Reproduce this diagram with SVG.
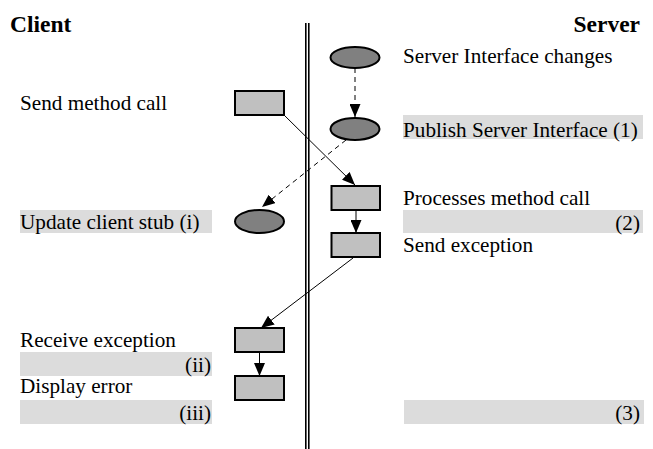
<svg xmlns="http://www.w3.org/2000/svg" width="653" height="449" viewBox="0 0 653 449">
  <style>
    text { font-family: 'Liberation Serif', 'Tinos', 'Times New Roman', Times, 'DejaVu Serif', serif; fill: #000; }
    .lbl { font-size: 21.2px; }
    .hdr { font-size: 23.5px; font-weight: bold; }
    .band { fill: #dcdcdc; }
    .box { fill: #c0c0c0; stroke: #000; stroke-width: 2; }
    .oval { fill: #808080; stroke: #000; stroke-width: 2; }
    .flow { stroke: #000; stroke-width: 1; fill: none; marker-end: url(#head); }
    .dash { stroke-dasharray: 5 4; }
    .wall { stroke: #000; stroke-width: 1.6; }
  </style>
  <defs>
    <marker id="head" viewBox="0 0 13 11" refX="13" refY="5.5" markerWidth="13" markerHeight="11" markerUnits="userSpaceOnUse" orient="auto">
      <path d="M0,0 L13,5.5 L0,11 Z" fill="#000"/>
    </marker>
  </defs>

  <rect width="653" height="449" fill="#fff"/>

  <!-- highlight bands behind labels -->
  <g id="bands">
    <rect class="band" x="403" y="115" width="240" height="24"/>
    <rect class="band" x="403" y="210" width="240" height="23"/>
    <rect class="band" x="20" y="210" width="192" height="23"/>
    <rect class="band" x="20" y="352" width="192" height="24"/>
    <rect class="band" x="20" y="400" width="192" height="24"/>
    <rect class="band" x="404" y="400" width="240" height="24"/>
  </g>

  <!-- client / server boundary -->
  <g id="boundary">
    <line class="wall" x1="305.8" y1="23" x2="305.8" y2="449"/>
    <line class="wall" x1="308.8" y1="23" x2="308.8" y2="449"/>
  </g>

  <g id="headers">
    <text class="hdr" x="10" y="32">Client</text>
    <text class="hdr" x="640" y="32" text-anchor="end">Server</text>
  </g>

  <g id="connectors">
    <line class="flow dash" x1="355" y1="68" x2="355" y2="117"/>
    <line class="flow" x1="284" y1="115" x2="355" y2="185"/>
    <line class="flow dash" x1="346" y1="140" x2="262" y2="207"/>
    <line class="flow" x1="356" y1="210" x2="356" y2="233"/>
    <line class="flow" x1="353" y1="258" x2="261" y2="328"/>
    <line class="flow" x1="259.5" y1="352" x2="259.5" y2="376"/>
  </g>

  <g id="server-interface-changes">
    <ellipse class="oval" cx="355" cy="57.5" rx="24.5" ry="10.5"/>
    <text class="lbl" x="403" y="63">Server Interface changes</text>
  </g>

  <g id="publish-server-interface">
    <ellipse class="oval" cx="355" cy="129" rx="24.5" ry="11"/>
    <text class="lbl" x="403" y="137">Publish Server Interface (1)</text>
  </g>

  <g id="send-method-call">
    <rect class="box" x="235" y="91" width="49" height="24"/>
    <text class="lbl" x="20" y="110">Send method call</text>
  </g>

  <g id="processes-method-call">
    <rect class="box" x="331.5" y="186" width="48.5" height="24"/>
    <text class="lbl" x="403" y="205">Processes method call</text>
    <text class="lbl" x="640" y="230" text-anchor="end">(2)</text>
  </g>

  <g id="send-exception">
    <rect class="box" x="331.5" y="233" width="48.5" height="24"/>
    <text class="lbl" x="403" y="252">Send exception</text>
  </g>

  <g id="update-client-stub">
    <ellipse class="oval" cx="259.5" cy="221.5" rx="24.5" ry="11.5"/>
    <text class="lbl" x="20" y="229">Update client stub (i)</text>
  </g>

  <g id="receive-exception">
    <rect class="box" x="235" y="328" width="49" height="24"/>
    <text class="lbl" x="20" y="347">Receive exception</text>
    <text class="lbl" x="211" y="372" text-anchor="end">(ii)</text>
  </g>

  <g id="display-error">
    <rect class="box" x="235" y="376" width="49" height="24"/>
    <text class="lbl" x="20" y="393">Display error</text>
    <text class="lbl" x="211" y="420" text-anchor="end">(iii)</text>
  </g>

  <g id="step-3">
    <text class="lbl" x="640" y="420" text-anchor="end">(3)</text>
  </g>
</svg>
